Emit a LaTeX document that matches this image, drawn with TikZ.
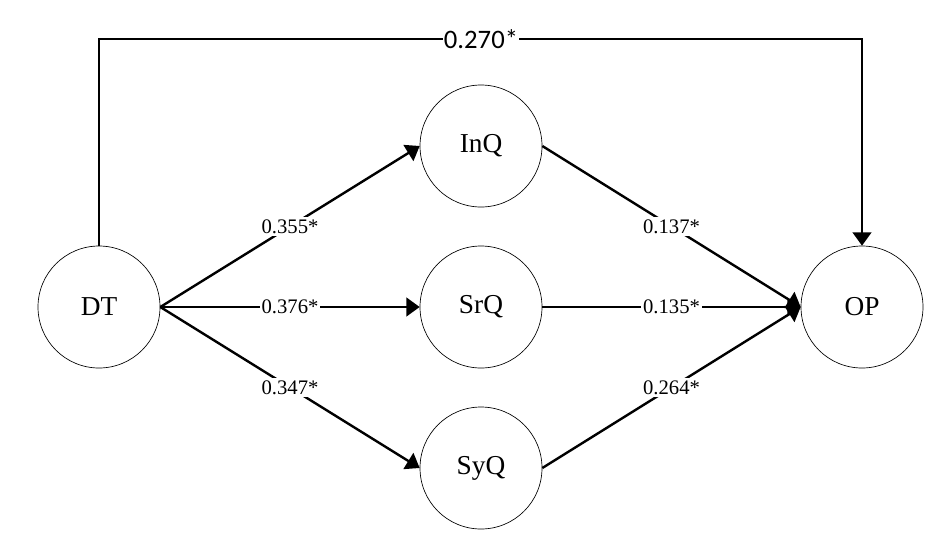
\documentclass[tikz,border=0pt]{standalone}
\usepackage{fontspec}
\setmainfont{Liberation Serif}
\newfontfamily\calfont{Carlito}
\usetikzlibrary{arrows.meta}
\begin{document}
\begin{tikzpicture}[x=0.75pt,y=-0.75pt]
    \tikzstyle{marrs}=[line width=1.8pt,-{Triangle[length=10pt,width=14pt]}]
    \tikzstyle{cnode}=[circle, draw, line width=0.5pt, minimum size=91.5pt, inner sep=0pt, font=\fontsize{20.5}{24}\selectfont]
    \tikzstyle{coef}=[fill=white, inner sep=1.5pt, font=\fontsize{15.5}{18}\selectfont]
    \def\midx{481}

    \useasboundingbox (0,0) rectangle (934,532);

    \node[cnode] (DT) at (99,307) {DT};
    \node[cnode] (InQ) at (\midx,146) {InQ};
    \node[cnode] (SrQ) at (\midx,307) {SrQ};
    \node[cnode] (SyQ) at (\midx,468) {SyQ};
    \node[cnode] (OP) at (862,307) {OP};

    \draw[marrs] (DT.north) |- (\midx,39) node[fill=white, inner sep=1pt, font=\calfont\fontsize{20}{24}\selectfont] {0.270*} -| (OP.north);

    \draw[marrs] (DT.east) -- node[coef] {0.355*} (InQ.west);
    \draw[marrs] (DT.east) -- node[coef] {0.376*} (SrQ.west);
    \draw[marrs] (DT.east) -- node[coef] {0.347*} (SyQ.west);

    \draw[marrs] (InQ.east) -- node[coef] {0.137*} (OP.west);
    \draw[marrs] (SrQ.east) -- node[coef] {0.135*} (OP.west);
    \draw[marrs] (SyQ.east) -- node[coef] {0.264*} (OP.west);
\end{tikzpicture}
\end{document}
